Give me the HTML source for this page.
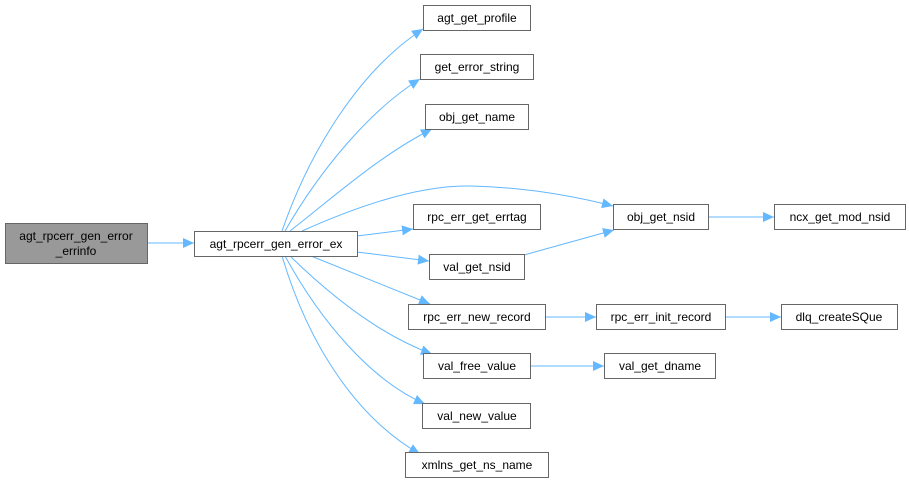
<!DOCTYPE html>
<html><head><meta charset="utf-8"><style>
html,body{margin:0;padding:0;background:#fff;}
svg{display:block;}
text{font-family:"Liberation Sans",Arial,sans-serif;font-size:12px;fill:#000;}
</style></head><body>
<svg width="909" height="483" viewBox="0 0 909 483" xmlns="http://www.w3.org/2000/svg">
<defs>
<marker id="a" markerWidth="12" markerHeight="10" refX="11" refY="5" orient="auto" markerUnits="userSpaceOnUse">
<path d="M0,0 L11,5 L0,10 Z" fill="#63b8ff"/>
</marker>
</defs>
<g fill="none" stroke="#63b8ff" stroke-width="1" marker-end="url(#a)">
<path d="M147,243 L194,243"/>
<path d="M282,231 C310,150 360,70 423,29"/>
<path d="M285,231 C320,170 370,110 420,79"/>
<path d="M290,231 C330,200 380,155 432,129"/>
<path d="M302,231 C360,205 420,185 470,186 C520,187 570,195 613,206"/>
<path d="M357,236 L413,229"/>
<path d="M357,252 L429,261"/>
<path d="M311,256 L430,304"/>
<path d="M290,256 C330,295 380,335 432,354"/>
<path d="M285,256 C320,320 370,380 425,404"/>
<path d="M282,256 C310,350 360,420 420,454"/>
<path d="M524,255 L614,230"/>
<path d="M708,217 L774,217"/>
<path d="M545,317 L596,317"/>
<path d="M725,317 L781,317"/>
<path d="M530,366 L604,366"/>
</g>
<g stroke="#666" stroke-width="1">
<rect x="5.5" y="223.5" width="142" height="40" fill="#999"/>
<rect x="194.5" y="231.5" width="163" height="25" fill="#fff"/>
<rect x="423.5" y="5.5" width="107" height="25" fill="#fff"/>
<rect x="420.5" y="54.5" width="113" height="25" fill="#fff"/>
<rect x="425.5" y="104.5" width="103" height="25" fill="#fff"/>
<rect x="613.5" y="204.5" width="95" height="25" fill="#fff"/>
<rect x="774.5" y="204.5" width="131" height="25" fill="#fff"/>
<rect x="413.5" y="204.5" width="127" height="25" fill="#fff"/>
<rect x="429.5" y="254.5" width="95" height="25" fill="#fff"/>
<rect x="408.5" y="304.5" width="137" height="25" fill="#fff"/>
<rect x="596.5" y="304.5" width="129" height="25" fill="#fff"/>
<rect x="781.5" y="304.5" width="116" height="25" fill="#fff"/>
<rect x="423.5" y="353.5" width="107" height="25" fill="#fff"/>
<rect x="604.5" y="353.5" width="111" height="25" fill="#fff"/>
<rect x="422.5" y="403.5" width="108" height="25" fill="#fff"/>
<rect x="405.5" y="452.5" width="143" height="25" fill="#fff"/>
</g>
<g text-anchor="middle">
<text x="76" y="240">agt_rpcerr_gen_error</text>
<text x="76" y="255">_errinfo</text>
<text x="276" y="248">agt_rpcerr_gen_error_ex</text>
<text x="477" y="22">agt_get_profile</text>
<text x="477" y="71">get_error_string</text>
<text x="477" y="121">obj_get_name</text>
<text x="661" y="221">obj_get_nsid</text>
<text x="840" y="221">ncx_get_mod_nsid</text>
<text x="477" y="221">rpc_err_get_errtag</text>
<text x="477" y="271">val_get_nsid</text>
<text x="477" y="321">rpc_err_new_record</text>
<text x="661" y="321">rpc_err_init_record</text>
<text x="839" y="321">dlq_createSQue</text>
<text x="477" y="370">val_free_value</text>
<text x="660" y="370">val_get_dname</text>
<text x="477" y="420">val_new_value</text>
<text x="477" y="469">xmlns_get_ns_name</text>
</g>
</svg>
</body></html>
